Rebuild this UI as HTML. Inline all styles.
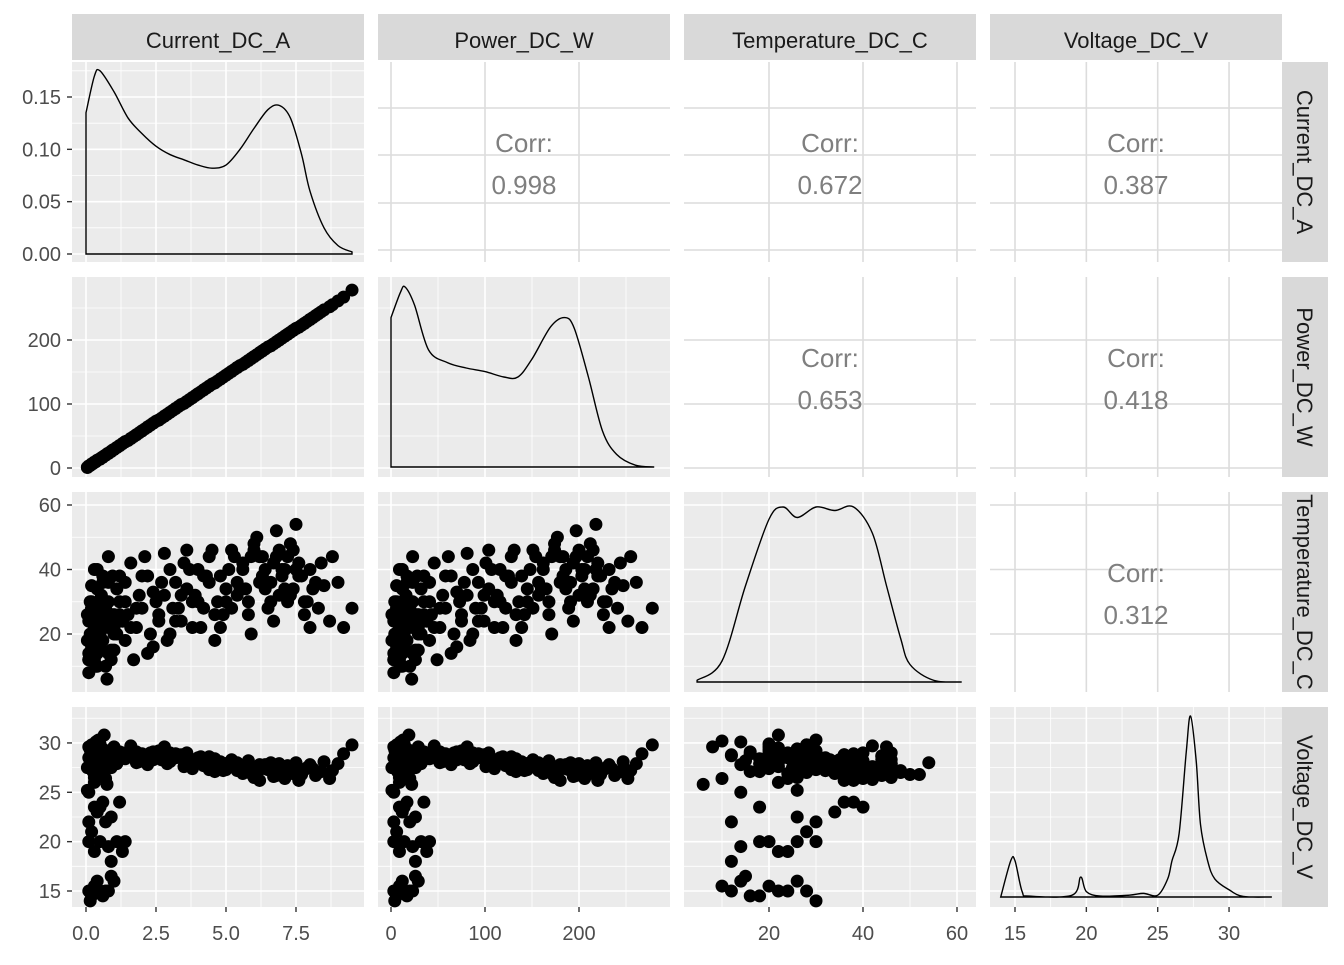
<!DOCTYPE html>
<html><head><meta charset="utf-8"><style>
body{margin:0;background:#fff}
svg text{font-family:"Liberation Sans",Arial,sans-serif}
</style></head><body>
<svg id="chart" width="1344" height="960" xmlns="http://www.w3.org/2000/svg"></svg>
<script>
// ---- data ----
const varNames = ["Current_DC_A","Power_DC_W","Temperature_DC_C","Voltage_DC_V"];
const corrValues = {"0-1":"0.998","0-2":"0.672","0-3":"0.387","1-2":"0.653","1-3":"0.418","2-3":"0.312"};
const curVals = [0.1,0.2,0.3,0.4,0.5,0.6,0.7,0.8,0.9,1.0,1.2,1.4,1.6,1.8,2.0,2.2,2.4,2.6,2.8,3.0,3.2,3.4,3.6,3.8,4.0,4.2,4.4,4.6,4.8,5.0,5.2,5.4,5.6,5.8,6.0,6.2,6.4,6.6,6.8,7.0,7.2,7.4,7.6,7.8,8.0,8.2,8.5,8.8,9.2,9.5,0.15,0.35,0.55,0.75,0.95,1.3,1.7,2.1,2.5,2.9,3.3,3.7,4.1,4.5,4.9,5.3,5.7,6.1,6.5,6.9,7.1,7.3,7.5,6.7,6.3,5.9,0.05,0.25,0.45,0.65,
0.1,0.2,0.3,0.4,0.5,0.6,0.8,1.0,0.15,0.35,0.7,0.9,0.1,0.3,0.5,0.8,1.1,1.3,1.4,0.2,0.1,0.4,0.6,0.9,1.2,0.3,
0.05,0.1,0.2,0.3,0.4,0.5,0.6,0.8,1.0,1.1,1.5,1.9,2.3,2.7,3.1,3.5,3.9,4.3,4.7,5.1,5.5,5.9,6.3,6.7,7.1,7.5,7.9,8.3,8.7,9.0,0.1,0.3,0.5,0.7,0.9,1.2,1.6,2.0,2.4,2.8,3.2,3.6,4.0,4.4,4.8,5.2,5.6,6.0,6.4,6.8,7.2,7.6,8.0,8.4,6.6,7.0,7.4,7.8,6.2,5.8,0.2,0.4,0.6,0.8,1.0,1.4,1.8,2.2,2.6,3.0,3.4,3.8,4.2,4.6,5.0,5.4,6.9,7.3,7.7,8.1];
const powVals = [3,6,9,12,14,17,20,23,26,29,35,41,46,52,58,64,70,75,81,87,93,99,104,110,116,122,128,133,139,145,151,157,162,168,174,180,186,191,197,203,209,215,220,226,232,238,247,255,267,278,4,10,16,22,28,38,49,61,73,84,96,107,119,131,142,154,165,177,189,200,206,212,218,194,183,171,1,7,13,19,
3,6,9,12,14,17,23,29,4,10,20,26,3,9,14,23,32,38,41,6,3,12,17,26,35,9,
1,3,6,9,12,14,17,23,29,32,43,55,67,78,90,101,113,125,136,148,160,171,183,194,206,218,229,241,252,261,3,9,14,20,26,35,46,58,70,81,93,104,116,128,139,151,162,174,186,197,209,220,232,244,191,203,215,226,180,168,6,12,17,23,29,41,52,64,75,87,99,110,122,133,145,157,200,212,223,235];
const tempVals = [8,35,12,40,20,28,10,44,25,15,30,18,42,22,38,14,33,26,45,20,36,24,46,30,40,28,44,18,38,34,46,32,42,26,48,36,40,30,52,38,44,34,42,30,40,36,35,44,22,28,20,14,32,6,38,24,12,44,30,18,28,40,22,46,26,44,34,50,28,46,40,32,54,24,44,20,26,16,30,22,
12,16,20,14,24,18,22,26,30,10,28,15,18,22,26,14,20,24,30,28,12,34,36,26,38,40,
18,24,30,26,34,16,38,30,22,34,26,32,20,36,28,42,32,38,30,40,34,44,38,42,34,40,30,28,24,36,14,22,18,30,12,26,22,28,16,32,24,34,30,36,22,28,40,46,34,44,30,38,22,42,36,40,46,26,44,30,28,10,26,36,20,36,28,38,24,40,32,22,38,26,30,36,32,48,38,34];
const voltVals = [29.6,28.3,28.8,27.2,29.9,28.1,26.4,28.7,27.5,28.2,29.1,28.4,29.7,28.0,28.9,27.8,28.3,29.2,29.6,28.1,28.5,28.8,29.0,27.4,28.2,27.9,28.6,27.1,28.0,27.3,28.3,27.2,26.9,27.9,27.0,26.2,27.4,27.8,26.8,27.1,27.7,26.9,26.3,27.3,27.8,26.7,28.1,27.2,28.9,29.8,29.3,30.1,28.2,25.8,28.4,29.0,28.7,28.3,29.1,27.9,28.8,28.0,28.6,27.9,27.2,27.7,27.6,26.8,27.3,27.9,26.4,27.2,28.0,26.9,27.6,27.4,25.2,27.1,30.3,30.8,
15,14.5,15.5,16,15,14.5,15,16,14,15.5,15,16.5,20,19,20,19.5,20,19,20,21,22,23,24,22.5,24,23.5,
27.5,28.5,29.2,26.5,27.8,28.9,27.1,28.4,29.5,27.9,28.6,28.1,29.0,28.3,28.8,27.6,28.2,27.9,27.4,28.0,27.3,26.9,27.7,26.6,27.2,26.8,27.5,27.0,26.4,27.9,25.0,26.0,23.5,22.0,18.0,28.7,29.3,28.6,29.1,28.4,28.9,27.8,28.5,27.3,28.1,27.6,27.0,26.5,27.8,26.7,27.4,26.2,27.6,27.1,28.0,27.5,26.9,27.3,27.8,28.2,29.8,30.2,29.4,28.8,29.6,28.8,29.1,28.3,28.7,29.0,28.5,28.1,27.7,28.4,27.9,28.0,27.6,27.2,26.8,27.4];
// densities
const curDensX = [0,0.3,0.5,1,1.5,2,2.5,3,3.5,4,4.5,5,5.5,6,6.5,6.9,7.3,7.7,8,8.5,9,9.5];
const curDensY = [0.135,0.17,0.175,0.155,0.13,0.115,0.103,0.095,0.09,0.085,0.082,0.085,0.1,0.12,0.138,0.142,0.13,0.095,0.06,0.025,0.008,0.002];
const powDensX = [0,10,15,25,40,60,80,100,120,135,150,170,185,195,210,225,240,260,280];
const powDensY = [0.83,0.97,1.0,0.9,0.65,0.58,0.55,0.53,0.5,0.5,0.6,0.78,0.83,0.77,0.5,0.2,0.07,0.01,0];
const tempDensX = [4.7,10,15,20,23,26,30,34,38,42,45,48,50,55,61];
const tempDensY = [0.01,0.12,0.55,0.93,1.0,0.94,1.0,0.98,1.0,0.85,0.55,0.25,0.1,0.01,0];
const voltDensX = [14,14.7,15,15.5,16,19,19.6,20,21,23,24,25,25.7,26,26.5,27,27.3,27.7,28,28.5,29,30,31,33];
const voltDensY = [0,0.2,0.2,0.03,0.005,0.01,0.11,0.03,0.005,0.01,0.02,0.01,0.1,0.2,0.35,0.8,1.0,0.75,0.4,0.2,0.1,0.04,0.003,0];
const colTicks = [[0,2.5,5,7.5],[0,100,200],[20,40,60],[15,20,25,30]];
const colTickLabels = [["0.0","2.5","5.0","7.5"],["0","100","200"],["20","40","60"],["15","20","25","30"]];
const rowTicks = [[0,0.05,0.1,0.15],[0,100,200],[20,40,60],[15,20,25,30]];
const rowTickLabels = [["0.00","0.05","0.10","0.15"],["0","100","200"],["20","40","60"],["15","20","25","30"]];

// ---- layout ----
const colX=[72,378,684,990], PW=292, rowY=[62,277,492,707], PH=200;
const xs=[v=>86+v*28, v=>391+v*0.94, v=>769+(v-20)*4.7, v=>1015+(v-15)*14.27];
const ys=[v=>254-v*1046.7, v=>468-v*0.64, v=>634-(v-20)*3.225, v=>891-(v-15)*9.87];
const series=[curVals,powVals,tempVals,voltVals];
const NS="http://www.w3.org/2000/svg";
const svg=document.getElementById('chart');
function mk(tag,attrs,parent){const e=document.createElementNS(NS,tag);for(const k in attrs)e.setAttribute(k,attrs[k]);(parent||svg).appendChild(e);return e;}
function smooth(pts){let d='';for(let i=0;i<pts.length-1;i++){const p0=pts[Math.max(i-1,0)],p1=pts[i],p2=pts[i+1],p3=pts[Math.min(i+2,pts.length-1)];
  const c1=[p1[0]+(p2[0]-p0[0])/6,p1[1]+(p2[1]-p0[1])/6],c2=[p2[0]-(p3[0]-p1[0])/6,p2[1]-(p3[1]-p1[1])/6];
  d+=' C'+c1[0]+','+c1[1]+' '+c2[0]+','+c2[1]+' '+p2[0]+','+p2[1];}return d;}

for(let r=0;r<4;r++)for(let c=0;c<4;c++){
  const g=mk('g',{});
  
  
  const x0=colX[c],y0=rowY[r],upper=c>r;
  mk('rect',{x:x0,y:y0,width:PW,height:PH,fill:upper?'#fff':'#ebebeb'},g);
  const gc=upper?'#dcdcdc':'#fff';
  const ct=colTicks[c], rt=(r===0&&upper)?null:rowTicks[r];
  if(!upper){
    for(let i=0;i<ct.length+1;i++){const a=i===0?ct[0]-(ct[1]-ct[0]):ct[i-1],b=i<ct.length?ct[i]:ct[i-1]+(ct[1]-ct[0]);const px=xs[c]((a+b)/2);if(px>x0&&px<x0+PW)mk('line',{x1:px,x2:px,y1:y0,y2:y0+PH,stroke:gc,'stroke-width':0.8},g);}
    for(let i=0;i<rt.length+1;i++){const a=i===0?rt[0]-(rt[1]-rt[0]):rt[i-1],b=i<rt.length?rt[i]:rt[i-1]+(rt[1]-rt[0]);const py=ys[r]((a+b)/2);if(py>y0&&py<y0+PH)mk('line',{x1:x0,x2:x0+PW,y1:py,y2:py,stroke:gc,'stroke-width':0.8},g);}
  }
  ct.forEach(t=>{const px=xs[c](t);if(px>x0&&px<x0+PW)mk('line',{x1:px,x2:px,y1:y0,y2:y0+PH,stroke:gc,'stroke-width':1.6},g);});
  if(rt){rt.forEach(t=>{const py=ys[r](t);if(py>y0&&py<y0+PH)mk('line',{x1:x0,x2:x0+PW,y1:py,y2:py,stroke:gc,'stroke-width':1.6},g);});}
  else{[108,155,203,250].forEach(py=>mk('line',{x1:x0,x2:x0+PW,y1:py,y2:py,stroke:gc,'stroke-width':1.6},g));}
  if(upper){
    const cx=x0+PW/2,cy=y0+PH/2;
    const t1=mk('text',{x:cx,y:cy-10,'text-anchor':'middle','font-size':26,fill:'#7f7f7f'},g);t1.textContent='Corr:';
    
    
    const t2=mk('text',{x:cx,y:cy+32,'text-anchor':'middle','font-size':26,fill:'#7f7f7f'},g);t2.textContent=corrValues[r+'-'+c];
    
    
  } else if(r===c){
    const dx=[curDensX,powDensX,tempDensX,voltDensX][c],dy=[curDensY,powDensY,tempDensY,voltDensY][c];
    let yf;
    if(c===0) yf=ys[0]; else { const base=[0,467,682,897][c], top=[0,287,507,716][c]; yf=v=>base-v*(base-top); }
    const b=yf(0);
    const pts=dx.map((v,i)=>[xs[c](v),yf(dy[i])]);
    let d='M'+pts[0][0]+','+b+' L'+pts[0][0]+','+pts[0][1]+smooth(pts)+' L'+pts[pts.length-1][0]+','+b+' Z';
    const p=mk('path',{d:d,fill:'none',stroke:'#000','stroke-width':1.4},g);
    
    
  } else {
    const xv=series[c],yv=series[r];
    for(let i=0;i<xv.length;i++){
      const pt=mk('circle',{cx:xs[c](xv[i]),cy:ys[r](yv[i]),r:6.5,fill:'#000'},g);
      
      
    }
  }
}
// strips
const defs=mk('defs',{});
for(let i=0;i<4;i++){
  const s=mk('rect',{x:colX[i],y:14,width:PW,height:46,fill:'#d9d9d9'});
  
  
  const t=mk('text',{x:colX[i]+PW/2,y:48,'text-anchor':'middle','font-size':22,fill:'#1a1a1a'});t.textContent=varNames[i];
  
  
  const cp=mk('clipPath',{id:'cp'+i},defs);mk('rect',{x:1282,y:rowY[i],width:46,height:PH},cp);
  const rs=mk('rect',{x:1282,y:rowY[i],width:46,height:PH,fill:'#d9d9d9'});
  
  
  const cg=mk('g',{'clip-path':'url(#cp'+i+')'});
  const cyy=rowY[i]+PH/2;
  const rt=mk('text',{x:1297,y:cyy,'text-anchor':'middle','font-size':22,fill:'#1a1a1a',transform:'rotate(90 1297 '+cyy+')'},cg);
  rt.textContent=varNames[i];
  
  
}
// axes ticks
for(let c=0;c<4;c++){colTicks[c].forEach((t,i)=>{const px=xs[c](t);mk('line',{x1:px,x2:px,y1:907,y2:912,stroke:'#333','stroke-width':1.4});
  const tx=mk('text',{x:px,y:940,'text-anchor':'middle','font-size':20,fill:'#4d4d4d'});tx.textContent=colTickLabels[c][i];
  
  });}
for(let r=0;r<4;r++){rowTicks[r].forEach((t,i)=>{const py=ys[r](t);mk('line',{x1:67,x2:72,y1:py,y2:py,stroke:'#333','stroke-width':1.4});
  const ty=mk('text',{x:61,y:py+7,'text-anchor':'end','font-size':20,fill:'#4d4d4d'});ty.textContent=rowTickLabels[r][i];
  
  });}
</script>
</body></html>
